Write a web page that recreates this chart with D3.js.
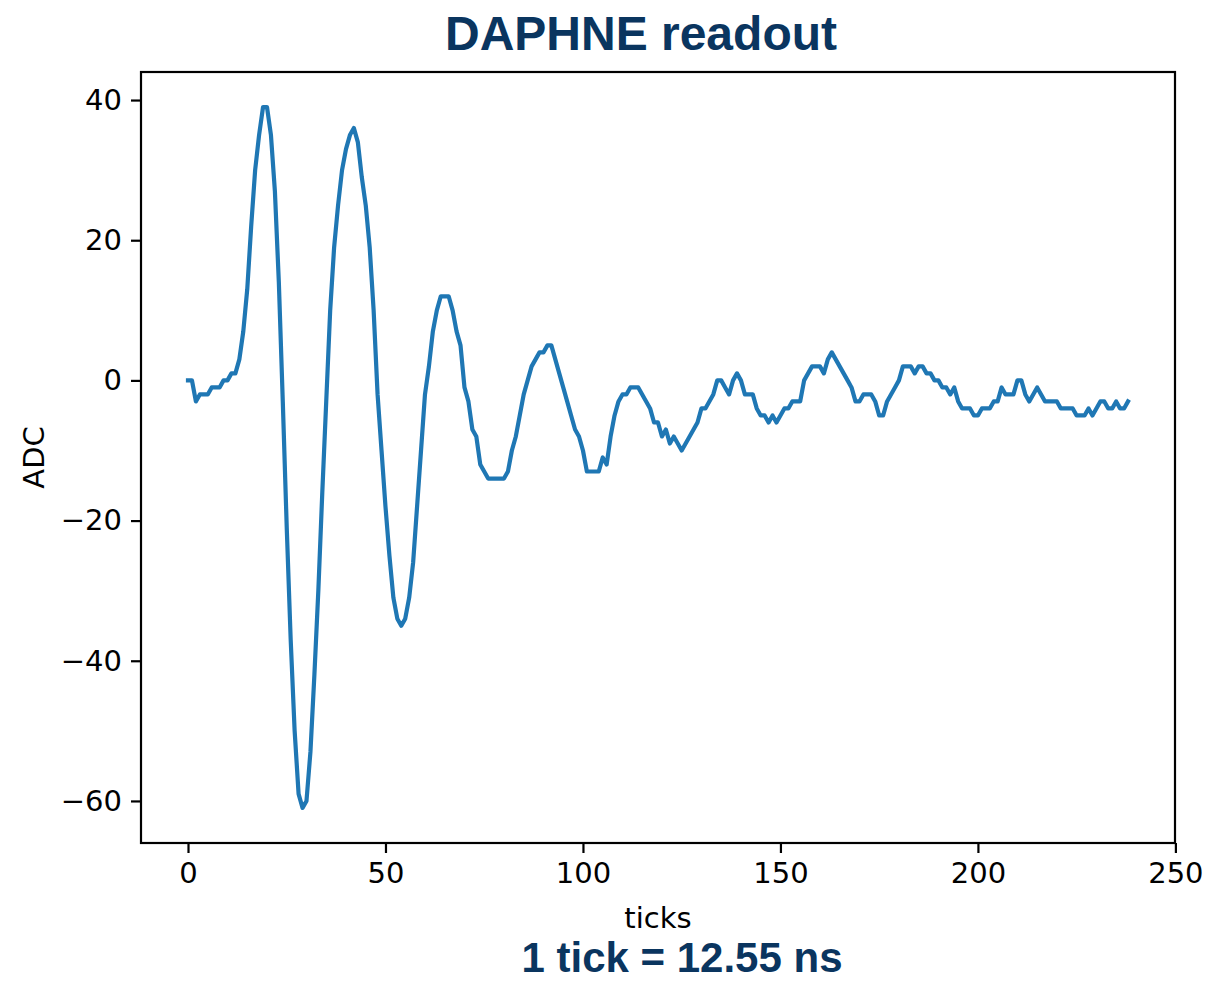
<!DOCTYPE html>
<html>
<head>
<meta charset="utf-8">
<script src="https://cdn.jsdelivr.net/npm/d3@7"></script>
<style>
  html, body { margin: 0; padding: 0; background: #fff; }
  svg { display: block; }
</style>
</head>
<body>
<svg id="chart" width="1208" height="982"></svg>
<script>
// ---- data ----
const title = "DAPHNE readout";
const note = "1 tick = 12.55 ns";
const xLabel = "ticks";
const yLabel = "ADC";
const xTicks = [0, 50, 100, 150, 200, 250];
const yTicks = [-60, -40, -20, 0, 20, 40];
// ADC value per tick (tick = index)
const adc = [
  0, 0, -3, -2, -2, -2, -1, -1, -1, 0,
  0, 1, 1, 3, 7, 13, 22, 30, 35, 39,
  39, 35, 27, 14, -3, -21, -37, -50, -59, -61,
  -60, -53, -42, -30, -16, -3, 10, 19, 25, 30,
  33, 35, 36, 34, 29, 25, 19, 10, -2, -10,
  -18, -25, -31, -34, -35, -34, -31, -26, -18, -10,
  -2, 2, 7, 10, 12, 12, 12, 10, 7, 5,
  -1, -3, -7, -8, -12, -13, -14, -14, -14, -14,
  -14, -13, -10, -8, -5, -2, 0, 2, 3, 4,
  4, 5, 5, 3, 1, -1, -3, -5, -7, -8,
  -10, -13, -13, -13, -13, -11, -12, -8, -5, -3,
  -2, -2, -1, -1, -1, -2, -3, -4, -6, -6,
  -8, -7, -9, -8, -9, -10, -9, -8, -7, -6,
  -4, -4, -3, -2, 0, 0, -1, -2, 0, 1,
  0, -2, -2, -2, -4, -5, -5, -6, -5, -6,
  -5, -4, -4, -3, -3, -3, 0, 1, 2, 2,
  2, 1, 3, 4, 3, 2, 1, 0, -1, -3,
  -3, -2, -2, -2, -3, -5, -5, -3, -2, -1,
  0, 2, 2, 2, 1, 2, 2, 1, 1, 0,
  0, -1, -1, -2, -1, -3, -4, -4, -4, -5,
  -5, -4, -4, -4, -3, -3, -1, -2, -2, -2,
  0, 0, -2, -3, -2, -1, -2, -3, -3, -3,
  -3, -4, -4, -4, -4, -5, -5, -5, -4, -5,
  -4, -3, -3, -4, -4, -3, -4, -4, -3
];

// ---- layout ----
const W = 1208, H = 982;
const plot = { left: 141, right: 1175, top: 72, bottom: 843 };
const tickFont = "'DejaVu Sans', sans-serif";
const tickSize = 29;

const n = adc.length;
const xPad = (n - 1) * 0.05;
const yMin = d3.min(adc), yMax = d3.max(adc);
const yPad = (yMax - yMin) * 0.05;

const x = d3.scaleLinear().domain([-xPad, (n - 1) + xPad]).range([plot.left, plot.right]);
const y = d3.scaleLinear().domain([yMin - yPad, yMax + yPad]).range([plot.bottom, plot.top]);

const svg = d3.select("#chart");
svg.append("rect").attr("width", W).attr("height", H).attr("fill", "#fff");

// line
const line = d3.line().x((d, i) => x(i)).y(d => y(d));
svg.append("path")
  .datum(adc)
  .attr("fill", "none")
  .attr("stroke", "#1f77b4")
  .attr("stroke-width", 4.2)
  .attr("stroke-linejoin", "round")
  .attr("stroke-linecap", "square")
  .attr("d", line);

// axes
const xAxis = svg.append("g")
  .attr("transform", `translate(0,${plot.bottom})`)
  .call(d3.axisBottom(x).tickValues(xTicks).tickSize(10).tickPadding(9).tickFormat(d3.format("d")));
const yAxis = svg.append("g")
  .attr("transform", `translate(${plot.left},0)`)
  .call(d3.axisLeft(y).tickValues(yTicks).tickSize(10).tickPadding(9).tickFormat(d3.format("d")));

[xAxis, yAxis].forEach(g => {
  g.select(".domain").remove();
  g.selectAll(".tick line").attr("stroke", "#000").attr("stroke-width", 2.2);
  g.selectAll(".tick text")
    .attr("fill", "#000")
    .style("font-family", tickFont)
    .style("font-size", tickSize + "px");
});

// frame
svg.append("rect")
  .attr("x", plot.left).attr("y", plot.top)
  .attr("width", plot.right - plot.left).attr("height", plot.bottom - plot.top)
  .attr("fill", "none").attr("stroke", "#000").attr("stroke-width", 2.2);

// axis labels
svg.append("text")
  .attr("x", (plot.left + plot.right) / 2).attr("y", 928)
  .attr("text-anchor", "middle")
  .style("font-family", tickFont).style("font-size", tickSize + "px")
  .text(xLabel);

svg.append("text")
  .attr("transform", `translate(44,${(plot.top + plot.bottom) / 2}) rotate(-90)`)
  .attr("text-anchor", "middle")
  .style("font-family", tickFont).style("font-size", tickSize + "px")
  .text(yLabel);

// title & note
svg.append("text")
  .attr("x", 641).attr("y", 50)
  .attr("text-anchor", "middle")
  .attr("fill", "#0a355f")
  .style("font-family", "'Liberation Sans', Arial, sans-serif")
  .style("font-weight", "bold")
  .style("font-size", "48px")
  .text(title);

svg.append("text")
  .attr("x", 682).attr("y", 972)
  .attr("text-anchor", "middle")
  .attr("fill", "#0a355f")
  .style("font-family", "'Liberation Sans', Arial, sans-serif")
  .style("font-weight", "bold")
  .style("font-size", "42px")
  .text(note);
</script>
</body>
</html>
